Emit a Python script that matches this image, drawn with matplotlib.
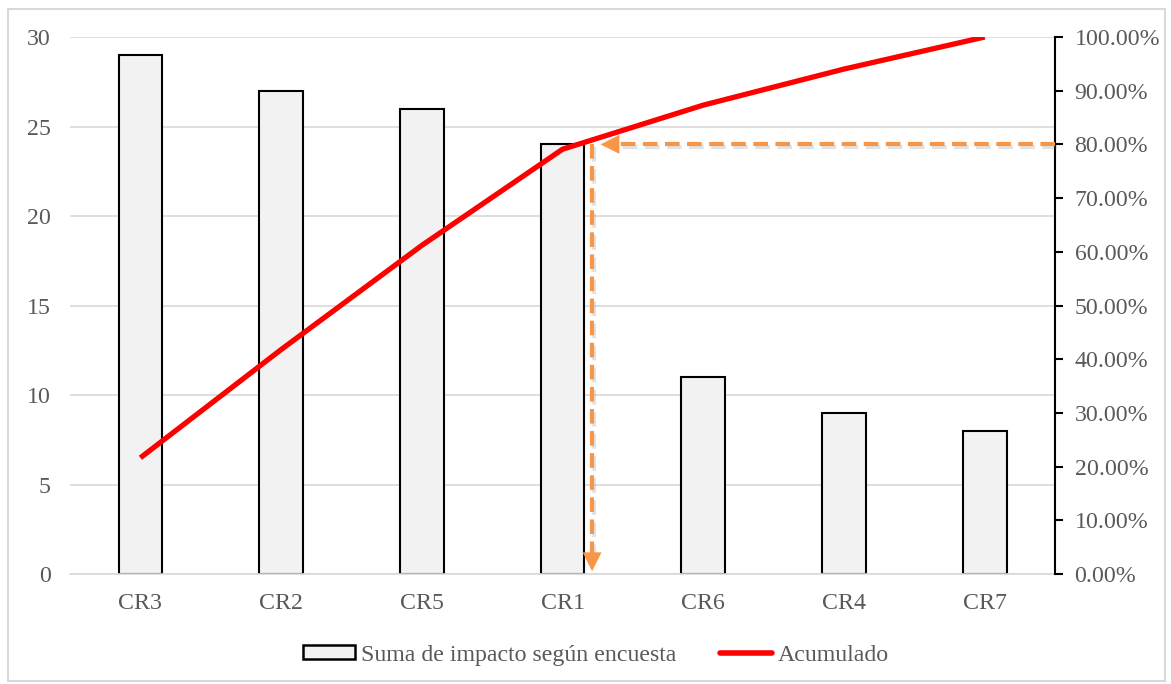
import matplotlib.pyplot as plt
import matplotlib.patheffects as pe
from matplotlib.patches import Rectangle
from matplotlib.lines import Line2D
import numpy as np

plt.rcParams['font.family'] = ['Liberation Serif', 'DejaVu Serif']

categories = ['CR3', 'CR2', 'CR5', 'CR1', 'CR6', 'CR4', 'CR7']
impacto = [29, 27, 26, 24, 11, 9, 8]
acumulado = np.cumsum(impacto) / np.sum(impacto) * 100
left_ticks = [0, 5, 10, 15, 20, 25, 30]
right_ticks = [0, 10, 20, 30, 40, 50, 60, 70, 80, 90, 100]
corte_pct = 80
corte_x = 3.21

text_col = '#595959'
grid_col = '#d9d9d9'
orange = '#F79646'
fs = 17.2

fig = plt.figure(figsize=(11.71, 6.84), dpi=100)
ax = fig.add_axes([0.0598, 0.1608, 0.8412, 0.7851])
ax2 = ax.twinx()

x = np.arange(len(categories))
ax.bar(x, impacto, width=0.31, color='#f2f2f2', edgecolor='black', linewidth=1.5,
       zorder=2, label='Suma de impacto según encuesta')
ax.set_xlim(-0.5, len(categories) - 0.5)
ax.set_ylim(0, 30)
ax.set_yticks(left_ticks)
ax.set_xticks(x, categories)
ax.grid(axis='y', color=grid_col, linewidth=1.2, zorder=0)
ax.set_axisbelow(True)
for s in ['top', 'left', 'right']:
    ax.spines[s].set_visible(False)
ax.spines['bottom'].set_color(grid_col)
ax.spines['bottom'].set_linewidth(1.2)
ax.tick_params(axis='both', length=0, labelsize=fs, labelcolor=text_col)
ax.tick_params(axis='y', pad=14)
ax.tick_params(axis='x', pad=14)

ax2.plot(x, acumulado, color='#ff0000', linewidth=3.8, solid_capstyle='butt',
         zorder=3, label='Acumulado')
ax2.set_ylim(0, 100)
ax2.set_yticks(right_ticks, [f'{v:.2f}%' for v in right_ticks])
for s in ['top', 'left', 'bottom']:
    ax2.spines[s].set_visible(False)
ax2.spines['right'].set_color('black')
ax2.spines['right'].set_linewidth(1.5)
ax2.tick_params(axis='y', direction='out', length=6, width=1.5, color='black',
                labelsize=fs, labelcolor=text_col, pad=8)

# 80% cut-off guides with a soft drop shadow
shadow = [pe.SimpleLineShadow(offset=(1.2, -2), shadow_color='#7f7f7f', alpha=0.22),
          pe.Normal()]
ax2.plot([6.5, corte_x + 0.12], [corte_pct, corte_pct], color=orange, lw=3,
         dashes=(3.5, 1.8), path_effects=shadow, clip_on=False, zorder=4)
ax2.plot([corte_x, corte_x], [corte_pct, 3], color=orange, lw=3,
         dashes=(3.5, 1.8), path_effects=shadow, zorder=4)
head = dict(arrowstyle='-|>', color=orange, lw=0, mutation_scale=34)
ax2.annotate('', xy=(corte_x + 0.04, corte_pct), xytext=(corte_x + 0.3, corte_pct),
             arrowprops=head, zorder=5)
ax2.annotate('', xy=(corte_x, 0), xytext=(corte_x, 6), arrowprops=head, zorder=5)

handles = [Rectangle((0, 0), 1, 1, facecolor='#f2f2f2', edgecolor='black', linewidth=1.8),
           Line2D([0], [0], color='#ff0000', linewidth=4, solid_capstyle='round')]
fig.legend(handles, ['Suma de impacto según encuesta', 'Acumulado'],
           loc='center', bbox_to_anchor=(0.509, 0.042), ncol=2, frameon=False,
           fontsize=fs, labelcolor=text_col, handlelength=2.2, handleheight=0.5,
           handletextpad=0.25, columnspacing=1.8)

fig.patches.append(Rectangle((0.007, 0.005), 0.988, 0.982, transform=fig.transFigure,
                             fill=False, edgecolor=grid_col, linewidth=1.5))

fig.savefig('out.png', dpi=100)
